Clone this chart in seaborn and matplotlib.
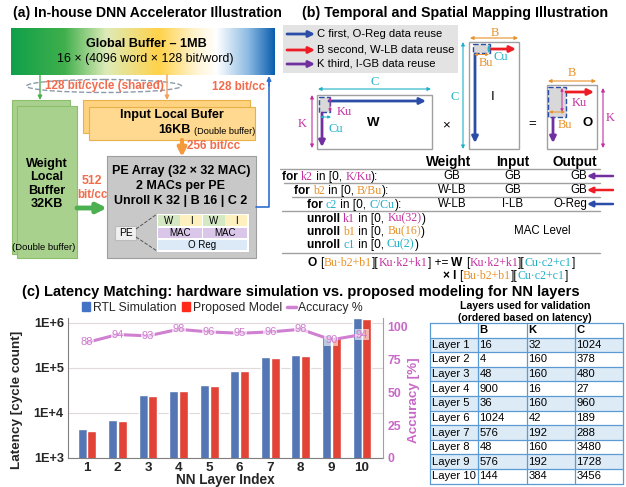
import numpy as np
import pandas as pd
import matplotlib
matplotlib.use("Agg")
import matplotlib.pyplot as plt
import seaborn as sns
from matplotlib.patches import Rectangle, Ellipse, Patch
from matplotlib.lines import Line2D
from matplotlib.colors import LinearSegmentedColormap

# -----------------------------
# Data
# -----------------------------
layers = list(range(1, 11))
rtl_latency = [4400, 7100, 25000, 31000, 41000, 87000, 175000, 190000, 550000, 1300000]
model_latency = [3900, 6500, 23500, 31000, 40000, 86000, 170000, 188000, 500000, 1220000]
accuracy = [88, 94, 93, 98, 96, 95, 96, 98, 90, 94]

table_rows = ["Layer %d" % i for i in layers]
table_B = [16, 4, 48, 900, 36, 1024, 576, 48, 576, 144]
table_K = [32, 160, 160, 16, 160, 42, 192, 160, 192, 384]
table_C = [1024, 378, 480, 27, 960, 189, 288, 3480, 1728, 3456]

sns.set_style("white")
plt.rcParams["font.family"] = ["Liberation Sans", "DejaVu Sans"]
SERIF = ["Liberation Serif", "DejaVu Serif"]

ORG_T = "#F26B4B"
MAG = "#C2309F"
CYN = "#1FB0C8"
ORG = "#E8912A"
BLU = "#2B4DA8"
RED = "#EE1C25"
PUR = "#7030A0"
PINK = "#C868C8"

fig = plt.figure(figsize=(6.26, 4.87), dpi=100)
ax0 = fig.add_axes([0, 0, 1, 1])
ax0.set_xlim(0, 626)
ax0.set_ylim(487, 0)
ax0.axis("off")
rend = fig.canvas.get_renderer()


def T(x, y, s, size=7.5, c="black", w="normal", ha="center", **kw):
    return ax0.text(x, y, s, fontsize=size, color=c, fontweight=w, ha=ha, va="center", **kw)


def box(x0, y0, x1, y1, fc, ec="none", lw=0.8, ls="-", z=1):
    ax0.add_patch(Rectangle((x0, y0), x1 - x0, y1 - y0, fc=fc, ec=ec, lw=lw, ls=ls, zorder=z))


def arrow(x0, y0, x1, y1, c, lw=2, ms=10, style="-|>"):
    ax0.annotate("", xy=(x1, y1), xytext=(x0, y0),
                 arrowprops=dict(arrowstyle=style, color=c, lw=lw, mutation_scale=ms,
                                 shrinkA=0, shrinkB=0))


def tw(s, **kw):
    t = ax0.text(0, 0, s + "|", **kw)
    w1 = t.get_window_extent(rend).width
    t.remove()
    t = ax0.text(0, 0, "|", **kw)
    w2 = t.get_window_extent(rend).width
    t.remove()
    return w1 - w2


def rich(x, y, parts, size=8.6, ssize=8.6):
    # parts: (text, colour, kind) with kind 'n' normal, 'b' bold, 's' serif
    for s, c, kind in parts:
        kw = dict(fontsize=size, color=c, va="baseline", ha="left")
        if kind == "b":
            kw["fontweight"] = "bold"
        elif kind == "s":
            kw["family"] = SERIF
            kw["fontsize"] = ssize
        ax0.text(x, y + 3.6, s, **kw)
        x += tw(s, **kw)


# -----------------------------
# (a) accelerator illustration
# -----------------------------
T(13, 13, "(a) In-house DNN Accelerator Illustration", 10.1, w="bold", ha="left")
gb_cmap = LinearSegmentedColormap.from_list(
    "gb", [(0, "#10A04A"), (0.2, "#3FAF4C"), (0.36, "#DDEBB8"), (0.56, "#FFD24A"),
           (0.7, "#FFF3D0"), (0.78, "#FFFFFF"), (0.9, "#8DBBE3"), (1, "#0A5EAD")])
ax0.imshow(np.linspace(0, 1, 256)[None, :], cmap=gb_cmap, extent=(11, 275, 75, 28),
           aspect="auto", zorder=1)
T(146, 44, "Global Buffer – 1MB", 9.1, w="bold", zorder=3)
T(145, 59, "16 × (4096 word × 128 bit/word)", 8.9, zorder=3)

arrow(40, 75, 40, 100, "#4CAF50", lw=1, ms=6)
arrow(167, 75, 167, 100, "#F5A05A", lw=1, ms=6)
ax0.add_patch(Ellipse((104, 86), 155, 13, fill=False, ec="#8C9BAA", ls="--", lw=1))
T(104, 86, "128 bit/cycle (shared)", 8.4, ORG_T, "bold")
T(239, 87, "128 bit/cc", 8.4, ORG_T, "bold")
ax0.plot([256, 269, 269], [207, 207, 82], color="#2E6FD0", lw=1.2)
arrow(269, 86, 269, 76, "#2E6FD0", lw=1.2, ms=6)

# weight local buffer
box(12, 100, 70, 254, "#A9D08E", "#8CBF6C")
box(17, 106, 77, 258, "#A9D18E", "#8CBF6C", z=2)
T(47, 184, "Weight\nLocal\nBuffer\n32KB", 9.1, w="bold", linespacing=1.18, zorder=3)
T(44, 247, "(Double buffer)", 6.8, zorder=3)

# input local buffer
box(83, 100, 250, 133, "#FFD27F", "#E8B24A")
box(89, 107, 255, 140, "#FFD98F", "#E8B24A", z=2)
T(172, 115, "Input Local Bufer", 9.1, w="bold", zorder=3)
T(174, 130, "16KB", 9.1, w="bold", zorder=3)
T(225, 131, "(Double buffer)", 6.6, zorder=3)

# PE array
box(107, 156, 256, 258, "#C8C8C8", "#9E9E9E")
arrow(182, 140, 182, 157, "#F59A3C", lw=3, ms=12)
T(214, 146, "256 bit/cc", 8.4, ORG_T, "bold")
arrow(77, 208, 107, 208, "#4CAF50", lw=3.5, ms=14)
T(92, 181, "512", 8.8, ORG_T, "bold")
T(92, 195, "bit/cc", 8.4, ORG_T, "bold")
T(181, 171, "PE Array (32 × 32 MAC)", 9, w="bold")
T(181, 186, "2 MACs per PE", 9, w="bold")
T(181, 201, "Unroll K 32 | B 16 | C 2", 9, w="bold")

box(115, 226, 136, 240, "#F0F0F0", "#BBBBBB", z=2)
T(125.5, 233, "PE", 7.4, zorder=3)
ax0.plot([136, 157], [229, 214], ls="--", color="#555555", lw=0.7)
ax0.plot([136, 157], [237, 251], ls="--", color="#555555", lw=0.7)
box(156, 213, 249, 252, "white", "#BBBBBB", lw=0.5, z=2)
for x0, x1, lab, col in [(158, 180, "W", "#D5E8C4"), (180, 202, "I", "#FFF0C0"),
                         (203, 225, "W", "#D5E8C4"), (225, 247, "I", "#FFF0C0")]:
    box(x0, 215, x1, 226, col, z=3)
    T((x0 + x1) / 2, 220.5, lab, 7, zorder=4)
for x0, x1 in [(158, 202), (203, 247)]:
    box(x0, 227.5, x1, 238, "#D9C6E8", z=3)
    T((x0 + x1) / 2, 233, "MAC", 7, zorder=4)
box(158, 239.5, 247, 250, "#DCEAF7", z=3)
T(202, 245, "O Reg", 7, zorder=4)

# -----------------------------
# (b) mapping illustration
# -----------------------------
T(302, 13, "(b) Temporal and Spatial Mapping Illustration", 10.3, w="bold", ha="left")
box(283, 25, 458, 73, "#E3E3E3")
for y, col, txt in [(34, BLU, "C first, O-Reg data reuse"),
                    (50, RED, "B second, W-LB data reuse"),
                    (64, PUR, "K third, I-GB data reuse")]:
    arrow(287, y, 315, y, col, lw=2, ms=9)
    T(317, y, txt, 8.1, ha="left")

dim = dict(lw=0.8, ms=5, style="<|-|>")
# W matrix
box(317, 95, 432, 149, "white", "#A0A0A0", lw=1)
arrow(318, 89, 431, 89, CYN, **dim)
T(375, 82, "C", 9, CYN, family=SERIF)
arrow(312, 95, 312, 148, MAG, **dim)
T(302, 124, "K", 9, MAG, family=SERIF)
box(319, 97, 330, 112, "#D8D8D8", BLU, lw=1, ls="--", z=2)
arrow(329, 101, 426, 101, BLU, lw=2, ms=9)
arrow(322, 113, 322, 147, PUR, lw=2, ms=9)
arrow(330, 97, 330, 112, MAG, lw=0.7, ms=4, style="<|-|>")
arrow(320, 117, 331, 117, CYN, lw=0.7, ms=4, style="<|-|>")
T(344, 112, "Ku", 9, MAG, family=SERIF)
T(336, 129, "Cu", 9, CYN, family=SERIF)
T(373, 123, "W", 9.5, w="bold")
T(446, 125, "×", 9.5)

# I matrix
box(469, 42, 519, 149, "white", "#A0A0A0", lw=1)
arrow(470, 38, 518, 38, ORG, **dim)
T(495, 33, "B", 9, ORG, family=SERIF)
arrow(463, 42, 463, 149, CYN, **dim)
T(455, 97, "C", 9, CYN, family=SERIF)
box(473, 44, 490, 53, "#D8D8D8", BLU, lw=1, ls="--", z=2)
arrow(490, 49, 516, 49, RED, lw=2, ms=9)
arrow(475, 54, 475, 143, BLU, lw=2, ms=9)
arrow(489, 45, 489, 53, CYN, lw=0.7, ms=4, style="<|-|>")
arrow(474, 54.5, 489, 54.5, ORG, lw=0.7, ms=4, style="<|-|>")
T(501, 57, "Cu", 9, CYN, family=SERIF)
T(486, 63, "Bu", 9, ORG, family=SERIF)
T(493, 97, "I", 9.5)
T(532, 124, "=", 9.5)

# O matrix
box(547, 85, 597, 149, "white", "#A0A0A0", lw=1)
arrow(548, 81, 596, 81, ORG, **dim)
T(572, 73, "B", 9, ORG, family=SERIF)
arrow(603, 88, 603, 148, MAG, **dim)
T(610, 118, "K", 9, MAG, family=SERIF)
box(548, 87, 566, 117, "#D8D8D8", BLU, lw=1, ls="--", z=2)
arrow(566, 92, 594, 92, RED, lw=2, ms=9)
arrow(553, 118, 553, 143, PUR, lw=2, ms=9)
arrow(562, 88, 562, 112, MAG, lw=0.7, ms=4, style="<|-|>")
arrow(549, 112, 565, 112, ORG, lw=0.7, ms=4, style="<|-|>")
T(579, 103, "Ku", 9, MAG, family=SERIF)
T(565, 125, "Bu", 9, ORG, family=SERIF)
T(588, 123, "O", 9.5, w="bold")

# loop nest table
T(449, 162, "Weight", 9.8, w="bold")
T(513, 162, "Input", 9.8, w="bold")
T(575, 162, "Output", 9.8, w="bold")
for y, x0 in [(169, 280), (183, 284), (197, 292), (211, 282), (253, 282)]:
    ax0.plot([x0, 600], [y, y], color="#A0A0A0", lw=1)

loops = [
    (176, 282, "k2", "K/Ku", MAG, "GB", "GB", "GB", PUR),
    (190, 294, "b2", "B/Bu", ORG, "W-LB", "GB", "GB", RED),
    (204, 307, "c2", "C/Cu", CYN, "W-LB", "I-LB", "O-Reg", BLU),
]
for y, x0, v, lim, col, w_loc, i_loc, o_loc, acol in loops:
    rich(x0, y, [("for ", "black", "b"), (v, col, "s"), (" in [0, ", "black", "n"),
                 (lim, col, "s"), ("):", "black", "n")])
    T(452, y, w_loc, 8.3)
    T(513, y, i_loc, 8.3)
    T(587, y, o_loc, 8.3, ha="right")
    arrow(613, y, 587, y, acol, lw=1.8, ms=8)

for y, v, lim, col in [(218, "k1", "Ku(32)", MAG), (231, "b1", "Bu(16)", ORG),
                       (244, "c1", "Cu(2)", CYN)]:
    rich(307, y, [("unroll ", "black", "b"), (v, col, "s"), (" in [0, ", "black", "n"),
                  (lim, col, "s"), (")", "black", "n")])
T(542, 231, "MAC Level", 8.3)

rich(308, 262, [("O ", "black", "b"), ("[", "black", "n"), ("Bu·b2+b1", ORG, "s"),
                ("][", "black", "n"), ("Ku·k2+k1", MAG, "s"), ("] += ", "black", "n"),
                ("W ", "black", "b"), ("[", "black", "n"), ("Ku·k2+k1", MAG, "s"),
                ("][", "black", "n"), ("Cu·c2+c1", CYN, "s"), ("]", "black", "n")])
rich(443, 275, [("× I ", "black", "b"), ("[", "black", "n"), ("Bu·b2+b1", ORG, "s"),
                ("][", "black", "n"), ("Cu·c2+c1", CYN, "s"), ("]", "black", "n")])

# -----------------------------
# (c) latency matching
# -----------------------------
T(22, 292, "(c) Latency Matching: hardware simulation vs. proposed modeling for NN layers",
  10.5, w="bold", ha="left")

df = pd.DataFrame({
    "layer": [str(l) for l in layers] * 2,
    "latency": rtl_latency + model_latency,
    "series": ["RTL Simulation"] * 10 + ["Proposed Model"] * 10,
})
axc = fig.add_axes([68 / 626, 29 / 487, 315 / 626, 140 / 487])
axc.set_yscale("log")
sns.barplot(data=df, x="layer", y="latency", hue="series", palette=["#4472C4", "#FF2A1A"],
            width=0.64, gap=0.08, errorbar=None, ax=axc, zorder=2)
if axc.get_legend() is not None:
    axc.get_legend().remove()
axc.set_xlim(-0.62, 9.69)
axc.set_ylim(1e3, 1.29e6)
axc.yaxis.set_minor_locator(matplotlib.ticker.NullLocator())
axc.set_yticks([1e3, 1e4, 1e5, 1e6], ["1E+3", "1E+4", "1E+5", "1E+6"],
               fontweight="bold", fontsize=9.2)
axc.set_xticks(range(10), [str(l) for l in layers], fontweight="bold", fontsize=9.7)
axc.tick_params(length=0, pad=3)
axc.yaxis.grid(True, color="#E2DADA", lw=0.8)
axc.set_axisbelow(True)
axc.set_xlabel("NN Layer Index", fontsize=9.8, fontweight="bold")
axc.xaxis.set_label_coords(0.5, -0.11)
axc.set_ylabel("Latency [cycle count]", fontsize=9.7, fontweight="bold")
axc.yaxis.set_label_coords(-0.143, 0.414)
for s in ["top", "right"]:
    axc.spines[s].set_visible(False)
for s in ["left", "bottom"]:
    axc.spines[s].set_color("#808080")

ax2 = axc.twinx()
sns.lineplot(x=np.arange(10), y=accuracy, ax=ax2, color="#D080D0", lw=2.2, zorder=3)
ax2.set_xlim(-0.62, 9.69)
ax2.set_ylim(0, 106.6)
ax2.set_yticks([0, 25, 50, 75, 100], ["0", "25", "50", "75", "100"],
               fontweight="bold", fontsize=8.8, color=PINK)
ax2.tick_params(length=0, pad=3)
ax2.set_ylabel("Accuracy [%]", fontsize=9.7, fontweight="bold", color=PINK)
ax2.yaxis.set_label_coords(1.08, 0.414)
for s in ["top", "left", "bottom"]:
    ax2.spines[s].set_visible(False)
ax2.spines["right"].set_color("#A0A0A0")
for i, a in enumerate(accuracy):
    ax2.text(i, a, str(a), ha="center", va="center", color="#D07AD0", fontsize=8,
             zorder=4, bbox=dict(fc="white", ec="none", alpha=0.6, pad=0.6))

handles = [Patch(color="#4472C4", label="RTL Simulation"),
           Patch(color="#FF2A1A", label="Proposed Model"),
           Line2D([], [], color="#D080D0", lw=2.5, label="Accuracy %")]
axc.legend(handles=handles, loc="lower center", bbox_to_anchor=(0.49, 0.985), ncol=3,
           frameon=False, fontsize=8.8, handlelength=0.7, handleheight=0.7,
           handletextpad=0.2, columnspacing=0.45, borderaxespad=0.1)

# validation table
T(525, 306, "Layers used for validation", 7.6, w="bold")
T(525, 318, "(ordered based on latency)", 7.6, w="bold")
col_x = [430, 478, 527, 575, 623]
row_h = 14.6
top = 323
cells = [["", "B", "K", "C"]] + [[r, str(b), str(k), str(c)]
                                 for r, b, k, c in zip(table_rows, table_B, table_K, table_C)]
for ri, row in enumerate(cells):
    y0 = top + ri * row_h
    fc = "#DDEBF7" if ri % 2 == 1 else "white"
    box(col_x[0], y0, col_x[-1], y0 + row_h, fc, z=1)
    for ci, txt in enumerate(row):
        T(col_x[ci] + 1.5, y0 + row_h / 2, txt, 8.1, w="bold" if ri == 0 else "normal",
          ha="left", zorder=3)
for ri in range(len(cells) + 1):
    y = top + ri * row_h
    ax0.plot([col_x[0], col_x[-1]], [y, y], color="#5B9BD5", lw=0.9, zorder=2)
for x in col_x:
    ax0.plot([x, x], [top, top + len(cells) * row_h], color="#5B9BD5", lw=0.9, zorder=2)

ax0.set_xlim(0, 626)
ax0.set_ylim(487, 0)
fig.savefig("out.png", dpi=100, facecolor="white")
